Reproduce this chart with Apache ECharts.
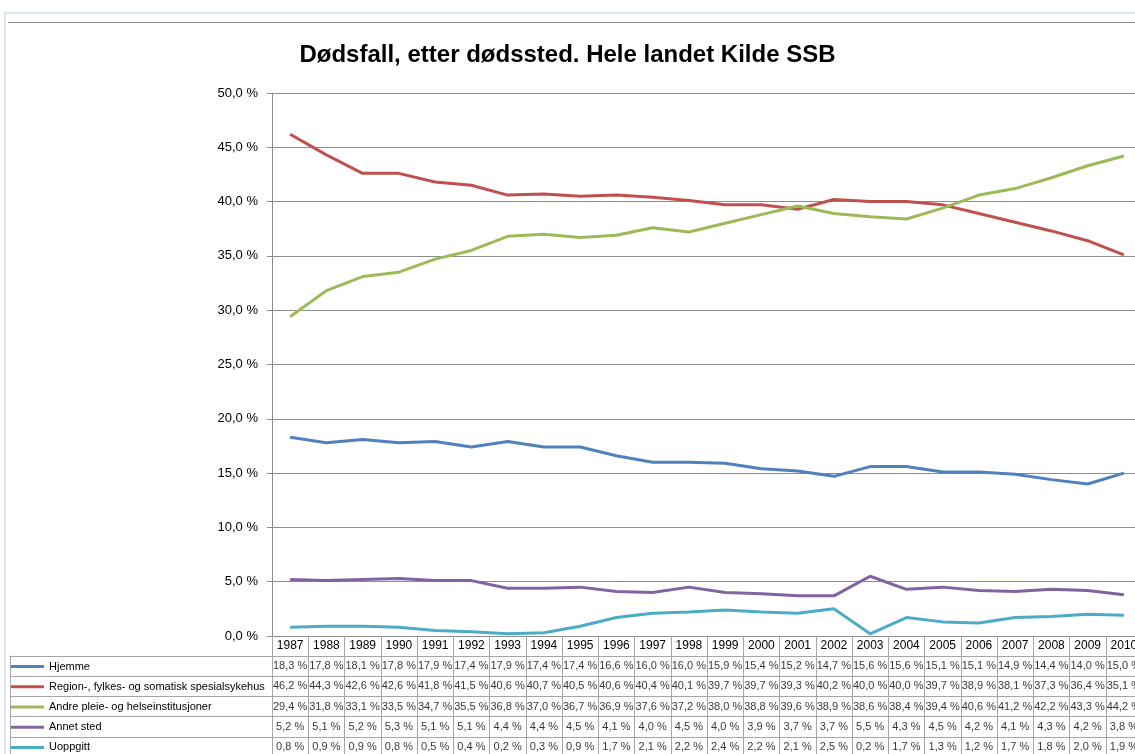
<!DOCTYPE html>
<html>
<head>
<meta charset="utf-8">
<script src="https://cdn.jsdelivr.net/npm/echarts@6/dist/echarts.min.js"></script>
<style>
  html, body { margin: 0; padding: 0; background: #fff; overflow: hidden; }
  #chart { position: absolute; left: 0; top: 0; width: 1135px; height: 754px; }
  .frame { position: absolute; left: 4px; top: 12px; width: 1200px; height: 800px;
           border-left: 2px solid #dce6f2; border-top: 2px solid #dce6f2; }
  .rule { position: absolute; left: 8px; top: 22px; width: 1200px; height: 0;
          border-top: 1px solid #8c8c8c; }
</style>
</head>
<body>
<div class="frame"></div>
<div class="rule"></div>
<div id="chart"></div>
<script>
// data
var years = ["1987","1988","1989","1990","1991","1992","1993","1994","1995","1996","1997","1998",
             "1999","2000","2001","2002","2003","2004","2005","2006","2007","2008","2009","2010"];
var names = ["Hjemme", "Region-, fylkes- og somatisk spesialsykehus",
             "Andre pleie- og helseinstitusjoner", "Annet sted", "Uoppgitt"];
var hjemme   = [18.3,17.8,18.1,17.8,17.9,17.4,17.9,17.4,17.4,16.6,16.0,16.0,15.9,15.4,15.2,14.7,15.6,15.6,15.1,15.1,14.9,14.4,14.0,15.0];
var region   = [46.2,44.3,42.6,42.6,41.8,41.5,40.6,40.7,40.5,40.6,40.4,40.1,39.7,39.7,39.3,40.2,40.0,40.0,39.7,38.9,38.1,37.3,36.4,35.1];
var andre    = [29.4,31.8,33.1,33.5,34.7,35.5,36.8,37.0,36.7,36.9,37.6,37.2,38.0,38.8,39.6,38.9,38.6,38.4,39.4,40.6,41.2,42.2,43.3,44.2];
var annet    = [5.2,5.1,5.2,5.3,5.1,5.1,4.4,4.4,4.5,4.1,4.0,4.5,4.0,3.9,3.7,3.7,5.5,4.3,4.5,4.2,4.1,4.3,4.2,3.8];
var uoppgitt = [0.8,0.9,0.9,0.8,0.5,0.4,0.2,0.3,0.9,1.7,2.1,2.2,2.4,2.2,2.1,2.5,0.2,1.7,1.3,1.2,1.7,1.8,2.0,1.9];
var colors = ["#4f81bd", "#c0504d", "#9bbb59", "#8064a2", "#4bacc6"];

var allData = [hjemme, region, andre, annet, uoppgitt];
var cellFont = "'Liberation Sans Narrow', 'Liberation Sans', sans-serif";
var gridColor = "#8c8c8c";
var tableColor = "#a6a6a6";

function fmt(v) {
  return v.toFixed(1).replace(".", ",") + " %";
}

var dom = document.getElementById("chart");
var myChart = echarts.init(dom, null, { renderer: "canvas" });

var series = [];
// the lines
for (var i = 0; i < 5; i++) {
  series.push({
    name: names[i],
    type: "line",
    xAxisIndex: 0,
    yAxisIndex: 0,
    symbol: "none",
    lineStyle: { width: 3, color: colors[i] },
    itemStyle: { color: colors[i] },
    data: allData[i],
    z: 5
  });
}
// the data table values
for (var r = 0; r < 5; r++) {
  var cells = allData[r].map(function (v, k) { return [k, r, v]; });
  series.push({
    name: "tbl" + r,
    type: "scatter",
    xAxisIndex: 1,
    yAxisIndex: 1,
    symbolSize: 1,
    itemStyle: { color: "rgba(0,0,0,0)" },
    silent: true,
    label: {
      show: true,
      position: "inside",
      color: "#000",
      fontSize: 11,
      fontFamily: cellFont,
      formatter: function (p) { return fmt(p.value[2]); }
    },
    data: cells
  });
}

// one legend per table row
var rowTop = 656, rowH = 20.2;
var legends = names.map(function (n, k) {
  return {
    data: [n],
    left: 11,
    top: rowTop + k * rowH + rowH / 2 - 5,
    padding: 0,
    icon: "rect",
    itemWidth: 33,
    itemHeight: 3,
    selectedMode: false,
    textStyle: { fontSize: 11, color: "#000", fontFamily: "'Liberation Sans', sans-serif" }
  };
});

var option = {
  animation: false,
  title: {
    text: "Dødsfall, etter dødssted. Hele landet Kilde SSB",
    left: "center",
    top: 38,
    textStyle: { fontSize: 24, fontWeight: "bold", color: "#000",
                 fontFamily: "'Liberation Sans', sans-serif" }
  },
  legend: legends,
  grid: [
    { left: 272, width: 870, top: 93, height: 543, outerBoundsMode: "none" },
    { left: 272, width: 870, top: 656, height: 101, outerBoundsMode: "none" },
    { left: 10, top: 656, width: 262, height: 101, outerBoundsMode: "none" }
  ],
  xAxis: [
    {
      gridIndex: 0,
      type: "category",
      data: years,
      boundaryGap: true,
      axisLine: { lineStyle: { color: gridColor, width: 1 } },
      axisTick: { show: true, length: 20, lineStyle: { color: tableColor } },
      axisLabel: { margin: 4, fontSize: 12, color: "#000", fontFamily: cellFont, interval: 0 },
      splitLine: { show: false }
    },
    {
      gridIndex: 1,
      type: "category",
      data: years,
      boundaryGap: true,
      position: "top",
      axisLine: { lineStyle: { color: tableColor } },
      axisTick: { show: false },
      axisLabel: { show: false },
      splitLine: { show: true, interval: 0, lineStyle: { color: tableColor } }
    },
    {
      gridIndex: 2,
      type: "category",
      data: [""],
      position: "top",
      axisLine: { lineStyle: { color: tableColor } },
      axisTick: { show: false },
      axisLabel: { show: false }
    }
  ],
  yAxis: [
    {
      gridIndex: 0,
      type: "value",
      min: 0,
      max: 50,
      interval: 5,
      axisLine: { show: true, lineStyle: { color: gridColor } },
      axisTick: { show: true, length: 5, lineStyle: { color: gridColor } },
      axisLabel: { fontSize: 13, color: "#000", margin: 14,
                   fontFamily: "'Liberation Sans Narrow', 'Liberation Sans', sans-serif",
                   formatter: function (v) { return fmt(v); } },
      splitLine: { show: true, lineStyle: { color: gridColor, width: 1 } }
    },
    {
      gridIndex: 1,
      type: "category",
      data: [0, 1, 2, 3, 4],
      inverse: true,
      axisLine: { show: true, lineStyle: { color: tableColor } },
      axisTick: { show: false },
      axisLabel: { show: false },
      splitLine: { show: true, interval: 0, lineStyle: { color: tableColor } }
    },
    {
      gridIndex: 2,
      type: "category",
      data: [0, 1, 2, 3, 4],
      inverse: true,
      axisLine: { show: true, lineStyle: { color: tableColor } },
      axisTick: { show: false },
      axisLabel: { show: false },
      splitLine: { show: true, interval: 0, lineStyle: { color: tableColor } }
    }
  ],
  series: series
};

myChart.setOption(option);
window.addEventListener("resize", myChart.resize);
</script>
</body>
</html>
